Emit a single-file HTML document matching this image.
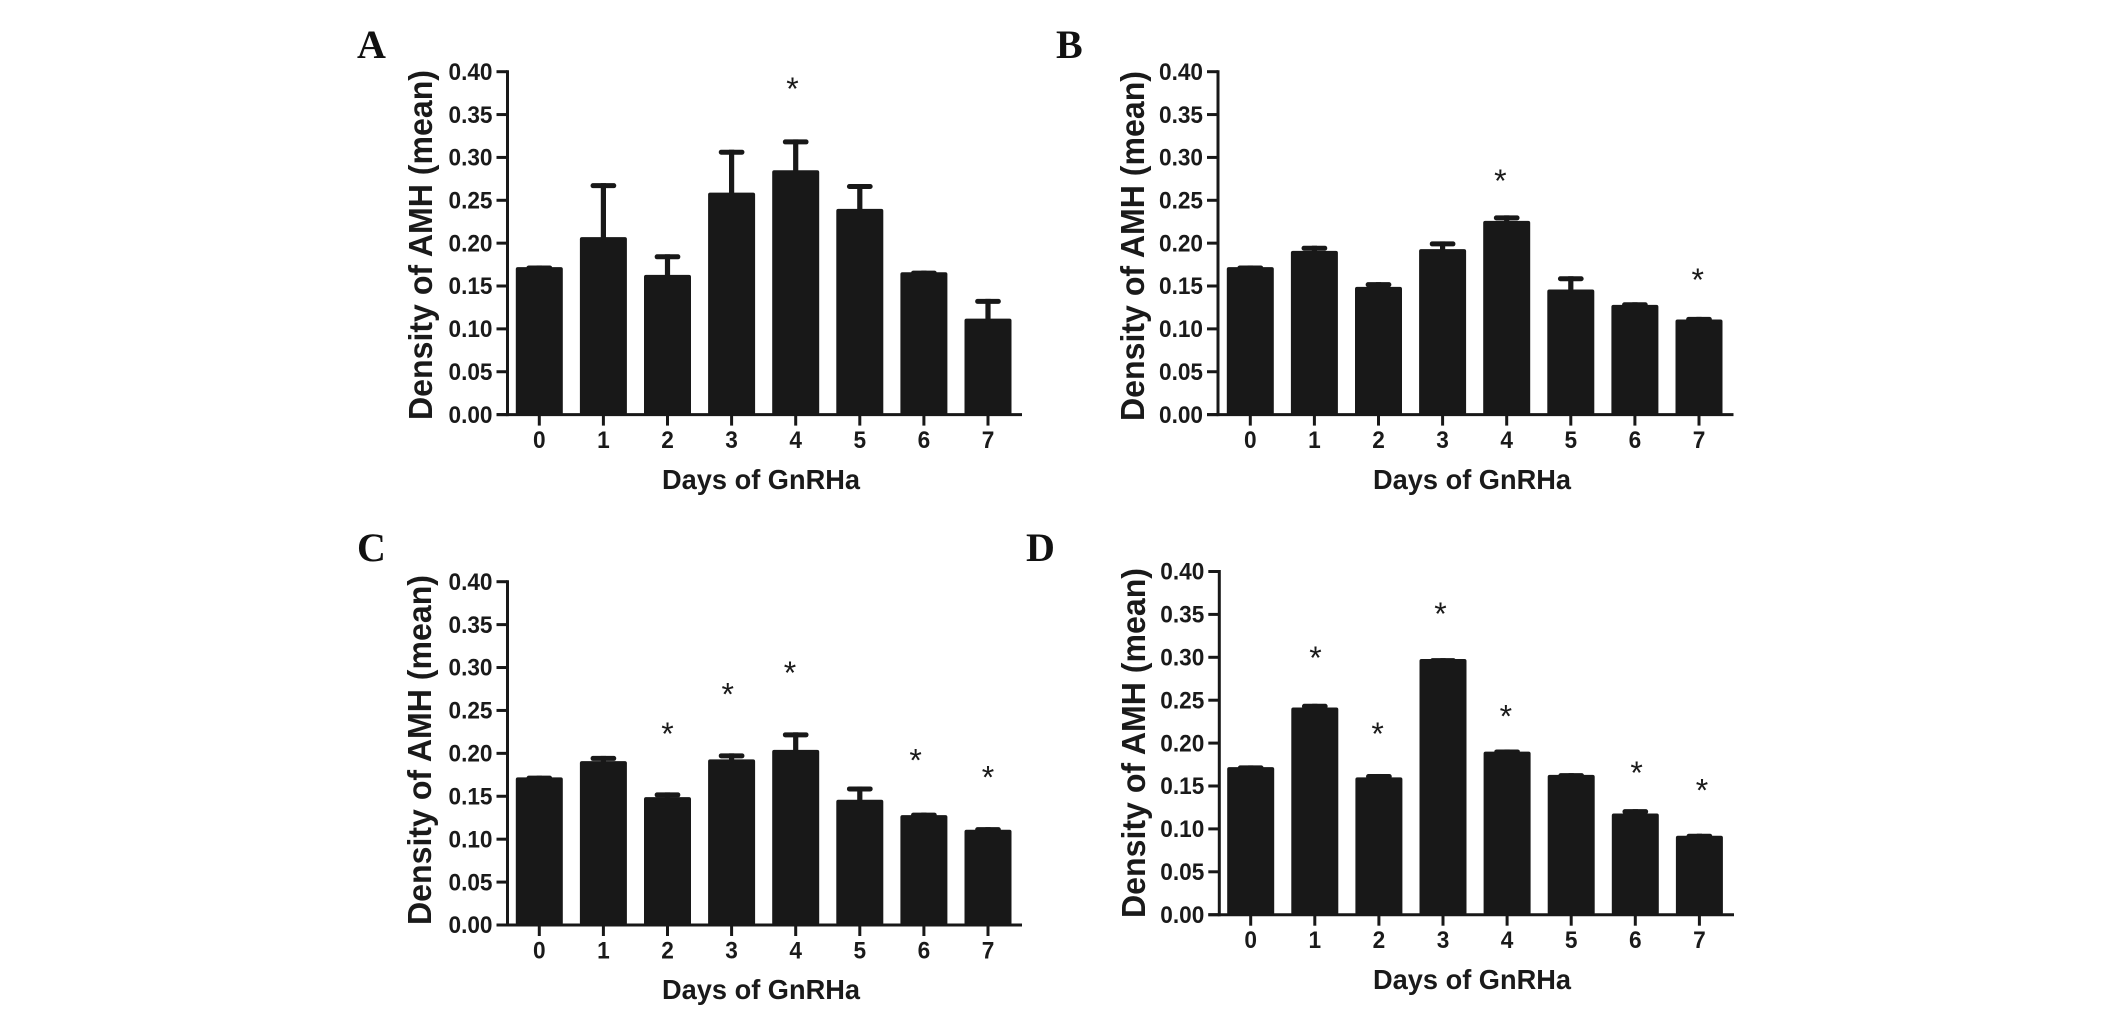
<!DOCTYPE html>
<html lang="en">
<head>
<meta charset="utf-8">
<title>Density of AMH by days of GnRHa</title>
<style>
html,body{margin:0;padding:0;background:#fff;}
svg{display:block;}
.ink{fill:#181818;}
.tick-text{font:bold 24px "Liberation Sans",sans-serif;fill:#1a1a1a;}
.axis-title{font-family:"Liberation Sans",sans-serif;font-weight:bold;fill:#1a1a1a;}
.panel-letter{font:bold 40px "Liberation Serif",serif;fill:#111;}
.star{font:32px "Liberation Sans",sans-serif;fill:#1a1a1a;}
</style>
</head>
<body>
<svg id="figure" xmlns="http://www.w3.org/2000/svg" width="2126" height="1015" viewBox="0 0 2126 1015">
  <rect width="2126" height="1015" fill="#fff"/>

  <g id="panel-a">
    <text class="panel-letter" x="357" y="58">A</text>
    <text class="axis-title" font-size="33" text-anchor="middle" textLength="350" lengthAdjust="spacingAndGlyphs" transform="translate(432,245) rotate(-90)">Density of AMH (mean)</text>
    <text class="axis-title" font-size="28" text-anchor="middle" textLength="198" lengthAdjust="spacingAndGlyphs" x="761" y="489">Days of GnRHa</text>
  </g>
  <g id="panel-b">
    <text class="panel-letter" x="1056" y="58">B</text>
    <text class="axis-title" font-size="33" text-anchor="middle" textLength="350" lengthAdjust="spacingAndGlyphs" transform="translate(1144,246) rotate(-90)">Density of AMH (mean)</text>
    <text class="axis-title" font-size="28" text-anchor="middle" textLength="198" lengthAdjust="spacingAndGlyphs" x="1472" y="489">Days of GnRHa</text>
  </g>
  <g id="panel-c">
    <text class="panel-letter" x="357" y="561">C</text>
    <text class="axis-title" font-size="33" text-anchor="middle" textLength="350" lengthAdjust="spacingAndGlyphs" transform="translate(431,750) rotate(-90)">Density of AMH (mean)</text>
    <text class="axis-title" font-size="28" text-anchor="middle" textLength="198" lengthAdjust="spacingAndGlyphs" x="761" y="999">Days of GnRHa</text>
  </g>
  <g id="panel-d">
    <text class="panel-letter" x="1026" y="561">D</text>
    <text class="axis-title" font-size="33" text-anchor="middle" textLength="350" lengthAdjust="spacingAndGlyphs" transform="translate(1145,743) rotate(-90)">Density of AMH (mean)</text>
    <text class="axis-title" font-size="28" text-anchor="middle" textLength="198" lengthAdjust="spacingAndGlyphs" x="1472" y="989">Days of GnRHa</text>
  </g>
</svg>

<script>
const categories = ['0','1','2','3','4','5','6','7'];
const yTickValues = [0,0.05,0.10,0.15,0.20,0.25,0.30,0.35,0.40];
const yTickLabels = ['0.00','0.05','0.10','0.15','0.20','0.25','0.30','0.35','0.40'];

const panelAMeans = [0.172,0.207,0.163,0.259,0.285,0.240,0.166,0.112];
const panelAErrors = [0.002,0.063,0.024,0.050,0.036,0.029,0.002,0.023];
const panelAStarDays = [3.95];
const panelAStarLevels = [0.385];

const panelBMeans = [0.172,0.191,0.149,0.193,0.226,0.146,0.128,0.111];
const panelBErrors = [0.002,0.006,0.0055,0.009,0.0064,0.0154,0.003,0.003];
const panelBStarDays = [3.9,6.98];
const panelBStarLevels = [0.278,0.162];

const panelCMeans = [0.172,0.191,0.149,0.193,0.204,0.146,0.128,0.111];
const panelCErrors = [0.002,0.006,0.0055,0.007,0.0205,0.0154,0.003,0.003];
const panelCStarDays = [2.0,2.94,3.91,5.87,7.0];
const panelCStarLevels = [0.228,0.274,0.299,0.197,0.177];

const panelDMeans = [0.172,0.2415,0.160,0.298,0.190,0.163,0.118,0.092];
const panelDErrors = [0.002,0.0043,0.004,0.001,0.0026,0.002,0.005,0.0024];
const panelDStarDays = [1.01,1.98,2.96,3.98,6.02,7.04];
const panelDStarLevels = [0.3045,0.216,0.3557,0.236,0.1705,0.150];

const NS = 'http://www.w3.org/2000/svg';
function svgEl(tag, attrs, parent) {
  const node = document.createElementNS(NS, tag);
  for (const k in attrs) node.setAttribute(k, attrs[k]);
  parent.appendChild(node);
  return node;
}

function drawPanel(groupId, layout, means, errors, starDays, starLevels) {
  const g = document.getElementById(groupId);
  const yScale = v => layout.y0 - (v / 0.4) * (layout.y0 - layout.y40);
  const xScale = d => layout.x0 + d * layout.step;
  const barWidth = 47;
  const capWidth = 25.7;
  const stroke = 3;

  means.forEach((m, i) => {
    const cx = xScale(i);
    const top = yScale(m);
    const errTop = yScale(m + errors[i]);

    const stem = svgEl('rect', {x: cx - 2.6, y: errTop, width: 5.2, height: Math.max(top - errTop, 0) + 2, class: 'ink'}, g);
    
    

    const cap = svgEl('rect', {x: cx - capWidth / 2, y: errTop, width: capWidth, height: 5, rx: 2.4, class: 'ink'}, g);
    
    

    const bar = svgEl('rect', {x: cx - barWidth / 2, y: top, width: barWidth, height: layout.y0 - top, rx: 2, class: 'ink'}, g);
    
    
  });

  const yAxis = svgEl('line', {x1: layout.axisX, x2: layout.axisX, y1: yScale(0.4) - 1.5, y2: layout.y0 + 1.5, stroke: '#181818', 'stroke-width': stroke}, g);
  
  

  const xAxis = svgEl('line', {x1: layout.axisX - 11, x2: layout.axisEnd, y1: layout.y0, y2: layout.y0, stroke: '#181818', 'stroke-width': stroke}, g);
  
  

  yTickValues.forEach((v, i) => {
    const y = yScale(v);
    const tick = svgEl('line', {x1: layout.axisX - 11, x2: layout.axisX, y1: y, y2: y, stroke: '#181818', 'stroke-width': stroke}, g);
    
    

    const label = svgEl('text', {x: layout.axisX - 15, y: y + 8.2, 'text-anchor': 'end', textLength: 44, lengthAdjust: 'spacingAndGlyphs', class: 'tick-text'}, g);
    
    
    label.textContent = yTickLabels[i];
  });

  categories.forEach((c, i) => {
    const x = xScale(i);
    const tick = svgEl('line', {x1: x, x2: x, y1: layout.y0, y2: layout.y0 + 11, stroke: '#181818', 'stroke-width': stroke}, g);
    
    

    const label = svgEl('text', {x: x, y: layout.y0 + 33.5, 'text-anchor': 'middle', textLength: 12.6, lengthAdjust: 'spacingAndGlyphs', class: 'tick-text'}, g);
    
    
    label.textContent = c;
  });

  starDays.forEach((d, i) => {
    const star = svgEl('text', {x: xScale(d), y: yScale(starLevels[i]) + 15.5, 'text-anchor': 'middle', class: 'star'}, g);
    
    
    star.textContent = '*';
  });
}

drawPanel('panel-a', {axisX: 507.5, axisEnd: 1022, x0: 539.3, step: 64.1, y0: 414.6, y40: 71.7}, panelAMeans, panelAErrors, panelAStarDays, panelAStarLevels);
drawPanel('panel-b', {axisX: 1218, axisEnd: 1733.5, x0: 1250.3, step: 64.1, y0: 414.6, y40: 71.7}, panelBMeans, panelBErrors, panelBStarDays, panelBStarLevels);
drawPanel('panel-c', {axisX: 507.5, axisEnd: 1022, x0: 539.3, step: 64.1, y0: 925, y40: 581.7}, panelCMeans, panelCErrors, panelCStarDays, panelCStarLevels);
drawPanel('panel-d', {axisX: 1219.3, axisEnd: 1734, x0: 1250.7, step: 64.1, y0: 914.7, y40: 571.5}, panelDMeans, panelDErrors, panelDStarDays, panelDStarLevels);
</script>
</body>
</html>
